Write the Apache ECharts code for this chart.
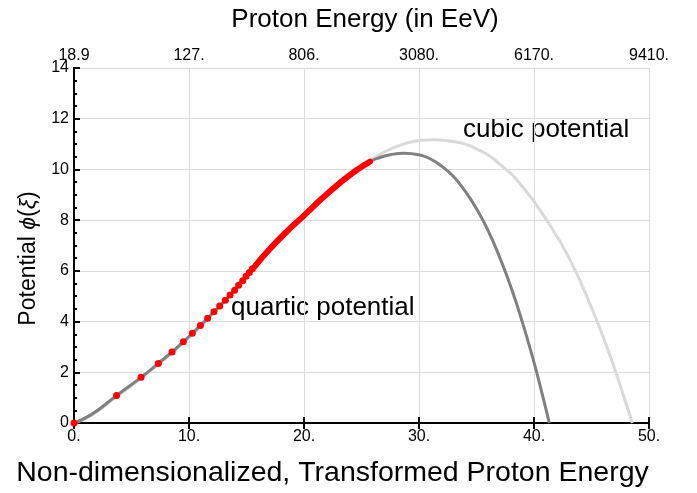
<!DOCTYPE html>
<html>
<head>
<meta charset="utf-8">
<script src="https://cdn.jsdelivr.net/npm/echarts@6/dist/echarts.min.js"></script>
<style>
  html, body { margin: 0; padding: 0; background: #fff; }
  #figure { width: 697px; height: 493px; }
</style>
</head>
<body>
<div id="figure"></div>
<script>
// values
var topLabels = ['18.9', '127.', '806.', '3080.', '6170.', '9410.'];

var quarticX = [0, 1.5, 3.7, 5.83, 7.33, 8.52, 9.51, 10.29, 10.99, 11.62, 12.17, 12.67, 13.57, 14.32, 15.74, 17, 18.5, 20.09, 21.5, 23.13, 24.5, 25.74, 26.6, 27.5, 28.64, 30, 31, 32, 33, 34, 35, 36, 37, 38, 39, 40, 40.7, 41.33];
var quarticY = [0, 0.33, 1.08, 1.80, 2.35, 2.80, 3.20, 3.54, 3.85, 4.13, 4.39, 4.61, 5.05, 5.43, 6.19, 6.85, 7.55, 8.22, 8.83, 9.47, 9.95, 10.31, 10.47, 10.58, 10.64, 10.58, 10.41, 10.12, 9.72, 9.15, 8.45, 7.6, 6.55, 5.35, 3.96, 2.39, 1.17, 0];

var cubicX = [0, 1.5, 3.7, 5.83, 7.33, 9.51, 12.17, 15.74, 20.09, 23.13, 24.5, 26.0, 27.5, 29, 30.2, 31.3, 33, 35, 37, 39, 41, 43, 45, 46.5, 47.6, 48.55];
var cubicY = [0, 0.3, 1.04, 1.76, 2.31, 3.16, 4.35, 6.15, 8.2, 9.46, 9.95, 10.42, 10.8, 11.05, 11.15, 11.17, 11.1, 10.81, 10.22, 9.32, 8.07, 6.55, 4.55, 2.8, 1.33, 0];

var dotX = [0, 3.7, 5.83, 7.33, 8.52, 9.51, 10.29, 10.99, 11.62, 12.17, 12.67, 13.16, 13.57, 13.97, 14.32, 14.67, 14.96, 15.25, 15.52];
var dotY = [0, 1.08, 1.80, 2.35, 2.80, 3.20, 3.54, 3.85, 4.13, 4.39, 4.61, 4.84, 5.05, 5.24, 5.43, 5.61, 5.79, 5.94, 6.08];

var denseX = [15.74, 17, 18.5, 20.09, 21.5, 23.13, 24.5, 25.74];
var denseY = [6.19, 6.85, 7.55, 8.22, 8.83, 9.47, 9.95, 10.31];

function pairs(xs, ys) {
    return xs.map(function (x, i) { return [x, ys[i]]; });
}

var font = 'Liberation Sans';
var figure = echarts.init(document.getElementById('figure'));
var option = {
    animation: false,
    textStyle: { fontFamily: font },
    title: {
        text: 'Proton Energy (in EeV)',
        left: 360,
        top: 2,
        textAlign: 'center',
        textStyle: { fontFamily: font, fontSize: 26, fontWeight: 'normal', color: '#000' }
    },
    grid: { left: 74, right: 48, top: 68, bottom: 69 },
    xAxis: [{
        type: 'value',
        min: 0,
        max: 50,
        interval: 10,
        position: 'bottom',
        name: 'Non-dimensionalized, Transformed Proton Energy',
        nameLocation: 'middle',
        nameGap: 36,
        nameTextStyle: { fontFamily: font, fontSize: 28.5, color: '#000', padding: [0, 0, 0, -58] },
        axisLine: { lineStyle: { color: '#000', width: 2 } },
        axisTick: { inside: true, length: 6, lineStyle: { color: '#000', width: 2 } },
        axisLabel: {
            fontSize: 16, color: '#000', margin: 6,
            formatter: function (v) { return v + '.'; }
        },
        splitLine: { show: true, lineStyle: { color: '#dcdcdc', width: 1 } }
    }, {
        type: 'value',
        min: 0,
        max: 50,
        interval: 10,
        position: 'top',
        axisLine: { lineStyle: { color: '#000', width: 2 } },
        axisTick: { inside: true, length: 6, lineStyle: { color: '#000', width: 2 } },
        axisLabel: {
            fontSize: 16, color: '#000', margin: 4,
            formatter: function (v) { return topLabels[Math.round(v / 10)]; }
        },
        splitLine: { show: false }
    }],
    yAxis: [{
        type: 'value',
        min: 0,
        max: 14,
        interval: 2,
        position: 'left',
        name: '{n|Potential }{i|ϕ}{n|(}{i|ξ}{n|)}',
        nameLocation: 'middle',
        nameGap: 32,
        nameRotate: 90,
        nameTextStyle: {
            padding: [0, 26, 0, 0],
            rich: {
                n: { fontFamily: font, fontSize: 23, color: '#000' },
                i: { fontFamily: font, fontSize: 23, color: '#000', fontStyle: 'italic' }
            }
        },
        axisLine: { lineStyle: { color: '#000', width: 2 } },
        axisTick: { inside: true, length: 6, lineStyle: { color: '#000', width: 2 } },
        minorTick: { show: true, splitNumber: 4, length: 3, lineStyle: { color: '#000', width: 2 } },
        axisLabel: { fontSize: 16, color: '#000', margin: 5 },
        splitLine: { show: true, lineStyle: { color: '#dcdcdc', width: 1 } }
    }, {
        type: 'value',
        min: 0,
        max: 14,
        interval: 2,
        position: 'right',
        axisLine: { show: true, lineStyle: { color: '#000', width: 2 } },
        axisTick: { show: false },
        axisLabel: { show: false },
        splitLine: { show: false }
    }],
    graphic: [{
        type: 'text',
        left: 231,
        top: 295,
        style: { text: 'quartic potential', fontFamily: font, fontSize: 26, fill: '#000' }
    }, {
        type: 'text',
        left: 463,
        top: 117,
        style: { text: 'cubic potential', fontFamily: font, fontSize: 26, fill: '#000' }
    }],
    series: [{
        name: 'cubic',
        type: 'line',
        smooth: true,
        showSymbol: false,
        lineStyle: { color: '#d9d9d9', width: 3 },
        data: pairs(cubicX, cubicY)
    }, {
        name: 'quartic',
        type: 'line',
        smooth: true,
        showSymbol: false,
        lineStyle: { color: '#808080', width: 3 },
        data: pairs(quarticX, quarticY)
    }, {
        name: 'dense',
        type: 'line',
        smooth: true,
        showSymbol: false,
        z: 5,
        lineStyle: { color: '#ff0000', width: 6, cap: 'round' },
        data: pairs(denseX, denseY)
    }, {
        name: 'dots',
        type: 'scatter',
        symbolSize: 7,
        z: 6,
        itemStyle: { color: '#ff0000', opacity: 1, borderWidth: 0 },
        data: pairs(dotX, dotY)
    }]
};

figure.setOption(option);
</script>
</body>
</html>
